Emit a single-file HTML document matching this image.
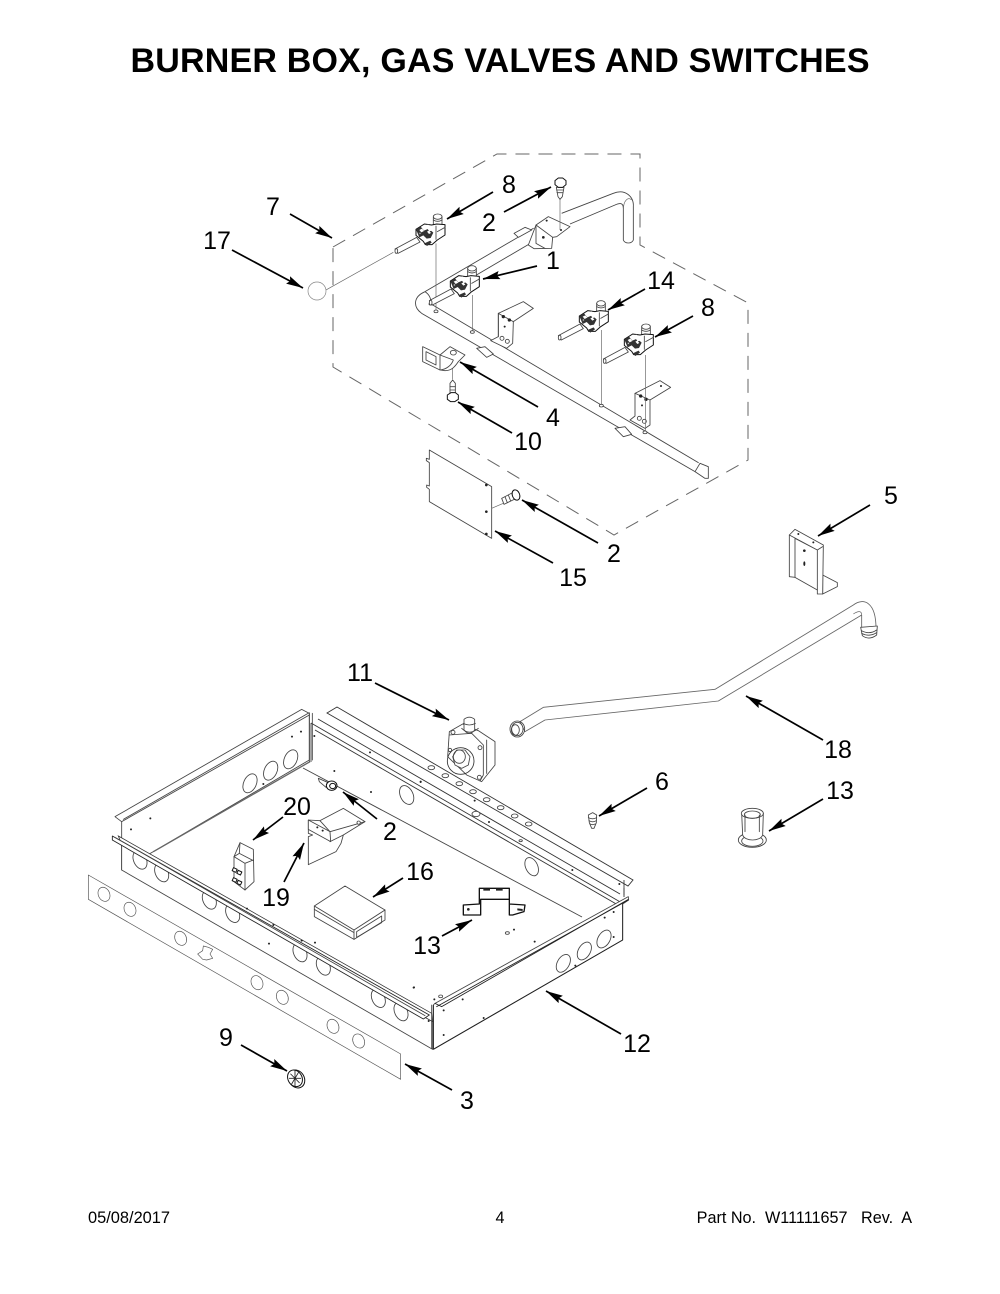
<!DOCTYPE html>
<html><head><meta charset="utf-8"><style>
html,body{margin:0;padding:0;background:#fff}
svg{display:block}
text{font-family:"Liberation Sans",Arial,sans-serif;fill:#000}
.n text{font-size:25px;text-anchor:middle}
.a line{stroke:#000;stroke-width:1.7;marker-end:url(#h)}
.d{fill:none;stroke:#444;stroke-width:2.6;stroke-linejoin:round;stroke-linecap:round}
.w{fill:#fff;stroke:#444;stroke-width:2.6;stroke-linejoin:round}
.k{fill:#fff;stroke:#111;stroke-width:3;stroke-linejoin:round}
.t{fill:none;stroke:#666;stroke-width:2}
.dot{fill:#222;stroke:none}
</style></head><body>
<svg width="1000" height="1294" viewBox="0 0 1000 1294" xmlns="http://www.w3.org/2000/svg">
<defs>
<marker id="h" markerUnits="userSpaceOnUse" markerWidth="18" markerHeight="10" refX="17" refY="5" orient="auto"><path d="M0,.8L17,5L0,9.2L2.5,5Z" fill="#000"/></marker>
<g id="valve">
 <path class="w" d="M195,297L260,262L270,276L204,310Z"/>
 <ellipse class="w" cx="199" cy="303" rx="4" ry="7"/>
 <path class="w" d="M310,200H336V225H310Z"/><ellipse class="w" cx="323" cy="200" rx="13" ry="8"/>
 <path class="d" d="M310,210Q323,218 336,210"/>
 <path class="k" d="M258,238L283,222L305,225L320,222L345,224V255L322,270L306,284L286,284L280,274L258,256Z"/>
 <path d="M258,238l14,-8l10,12l14,-6l14,12l-8,16l-12,2l-10,-10l-12,6zM283,280l18,-8l4,6l-14,10z" fill="#333"/>
 <path d="M268,240l8,-4l6,7l-8,4zM291,245l6,-3l6,7l-6,3zM285,226l10,-2l10,18l-7,2z" fill="#fff"/>
 <path class="d" d="M318,228V268M322,245L345,232"/>
 <circle class="w" cx="270" cy="250" r="3"/>
</g>
<g id="thole"><ellipse class="w" cx="0" cy="0" rx="10" ry="6"/></g>
</defs>

<text x="500" y="72" text-anchor="middle" font-size="34" font-weight="bold" textLength="739" lengthAdjust="spacing">BURNER BOX, GAS VALVES AND SWITCHES</text>

<path d="M333,247L497,154H640V245L748,303V460L614,535L333,367Z" fill="none" stroke="#666" stroke-width="1" stroke-dasharray="14 9"/>

<!-- upper assembly -->
<g transform="translate(330,150) scale(.33333)">
 <line class="t" x1="-30" y1="430" x2="190" y2="307"/>
 <path class="w" d="M695,190L850,130C885,115 912,140 910,170V270C905,282 885,282 880,270V175C880,158 870,158 855,165L720,222"/>
 <path class="t" d="M880,180C880,150 895,140 905,150"/>
 <path class="d" d="M610,235L285,425C250,440 248,470 275,490L1095,965M320,445L610,275M300,460L1105,938M285,425C300,435 305,450 300,460"/>
 <path class="w" d="M1095,965L1110,940L1135,950V985L1125,985Z"/>
 <path class="w" d="M552,250L585,232L605,240L565,262Z"/>
 <path class="w" d="M440,595L470,622L490,612L465,590Z"/>
 <path class="w" d="M855,835L880,860L905,853L885,830Z"/>
 <path class="w" d="M595,285L618,225L655,200L720,230L680,260L668,262L665,295L612,296Z"/>
 <path class="d" d="M618,225L668,262M618,225V280L645,295"/>
 <circle class="dot" cx="640" cy="262" r="4"/><circle class="dot" cx="650" cy="212" r="3"/><circle class="dot" cx="693" cy="240" r="3"/>
 <path class="w" d="M505,490L580,455L610,475L550,515L548,580L530,595L482,572L505,560Z"/>
 <path class="d" d="M505,490L550,515M505,490V560"/>
 <circle class="w" cx="516" cy="565" r="6"/><circle class="w" cx="532" cy="574" r="6"/><circle class="dot" cx="520" cy="500" r="5"/><circle class="dot" cx="538" cy="510" r="5"/><circle class="dot" cx="524" cy="530" r="3"/>
 <path class="w" d="M915,730L990,692L1022,712L960,750L960,825L945,835L900,810L915,798Z"/>
 <path class="d" d="M915,730L960,750"/>
 <circle class="w" cx="928" cy="805" r="6"/><circle class="w" cx="943" cy="814" r="6"/><circle class="dot" cx="932" cy="738" r="5"/><circle class="dot" cx="948" cy="748" r="5"/><circle class="dot" cx="936" cy="766" r="3"/><circle class="dot" cx="993" cy="708" r="3"/>
 <path class="t" d="M318,280V480M428,435V545M815,540V765M947,615V845M690,145V240"/>
 <ellipse class="w" cx="318" cy="484" rx="6" ry="4"/><ellipse class="w" cx="427" cy="546" rx="6" ry="4"/><ellipse class="w" cx="814" cy="767" rx="6" ry="4"/><ellipse class="w" cx="945" cy="847" rx="6" ry="4"/><ellipse class="w" cx="302" cy="462" rx="5" ry="3"/>
 <use href="#valve"/>
 <use href="#valve" x="103" y="155"/>
 <use href="#valve" x="490" y="260"/>
 <use href="#valve" x="625" y="330"/>
 <!-- screw 2 top -->
 <path class="w" d="M679,112H702L697,140L690,148L684,140Z"/>
 <path class="k" d="M675,92L685,84H698L708,92V104L698,112H685L675,104Z"/>
 <path class="d" d="M680,120H700M681,128H698"/>
 <!-- clip 4 -->
 <path class="w" d="M278,590L330,615V660L278,635Z"/>
 <path class="d" d="M288,605L318,620V645L288,630Z"/>
 <path class="w" d="M330,615L360,590L405,615L385,635C375,650 365,662 345,662L330,660C350,658 365,645 370,630Z"/>
 <ellipse class="w" cx="370" cy="608" rx="9" ry="7"/>
 <path class="t" d="M368,655V688"/>
 <!-- bolt 10 -->
 <path class="w" d="M360,700L368,690L376,700V732H360Z"/>
 <path class="d" d="M360,710H376M360,720H376"/>
 <path class="k" d="M352,735L363,728H376L385,735V748L374,755H362L352,748Z"/>
 <!-- plate 15 -->
 <path class="w" d="M298,900L485,1010V1165L298,1055V1018L290,1012V1005L298,1008V938L289,932V925L298,928Z"/>
 <circle class="dot" cx="469" cy="1005" r="4"/><circle class="dot" cx="469" cy="1085" r="4"/><circle class="dot" cx="469" cy="1152" r="4"/>
 <path class="t" d="M485,1075L520,1060"/>
 <path class="w" d="M515,1045L548,1028L555,1047L522,1063Z"/>
 <path class="d" d="M525,1040L532,1058M535,1035L542,1053"/>
 <ellipse class="k" cx="558" cy="1035" rx="11" ry="16" transform="rotate(-20 558 1035)"/>
</g>
<ellipse cx="317" cy="291" rx="9" ry="9" fill="#fff" stroke="#888" stroke-width=".7"/>

<!-- bracket 5, pipe 18, 6, bushing 13 -->
<g transform="translate(500,520) scale(.33333)">
 <path class="w" d="M968,165L1012,188V200L968,222Z"/>
 <path class="w" d="M868,45L885,28L970,75L968,222L952,222L952,210L885,172L868,170Z"/>
 <path class="d" d="M885,55V172M868,45L952,90V210M885,55L952,90M968,80L952,90"/>
 <circle class="dot" cx="913" cy="92" r="4"/><ellipse class="dot" cx="913" cy="131" rx="3" ry="7"/><circle class="dot" cx="895" cy="42" r="3"/><circle class="dot" cx="940" cy="67" r="3"/>
 <path class="w" style="stroke:#666" d="M60,605L130,562L645,508L1060,255C1090,232 1128,245 1128,325H1085V285L655,543L135,600L75,635Z"/>
 <path class="t" d="M1085,285C1085,272 1075,272 1060,282"/>
 <ellipse class="d" cx="52" cy="627" rx="22" ry="24"/><ellipse class="w" cx="52" cy="627" rx="17" ry="20"/><ellipse class="d" cx="46" cy="630" rx="12" ry="16"/>
 <path class="w" d="M1082,322L1132,318L1130,345Q1108,362 1087,347Z"/><path class="d" d="M1084,332Q1108,345 1130,330M1085,340Q1108,352 1130,338"/>
 <path class="w" d="M265,885L278,878L290,885L289,908L282,925H275L268,908Z"/><path class="d" d="M265,893Q278,900 290,893M267,902Q278,909 289,902M271,912Q278,916 285,912"/>
 <ellipse class="w" cx="757" cy="960" rx="42" ry="22"/><ellipse class="d" cx="757" cy="963" rx="32" ry="16"/>
 <path class="w" d="M725,880H790L788,945C780,965 735,965 728,945Z"/><ellipse class="w" cx="757" cy="880" rx="33" ry="15"/><path class="d" d="M735,885V935M778,885V935"/><ellipse class="d" cx="757" cy="884" rx="24" ry="11"/>
</g>

<!-- lower box: page coordinate lines -->
<g fill="none" stroke="#333" stroke-width=".9">
 <path d="M327,713L337,707L633,880L628,886L327,713Z" fill="#fff"/>
 <path d="M318,719L620,894M311,723L622,903M315,730L618,905"/>
 <path d="M311,723V762" stroke="#444"/>
 <path d="M303,768L582,917" stroke="#444"/>
 <path d="M624,888V897"/>
</g>
<g transform="translate(80,700) scale(.33333)">
 <path class="w" d="M105,350L665,28L688,40V180L220,455L125,510V365L105,350Z"/>
 <path class="d" d="M125,365L688,45M130,358L688,38"/>
 <path d="M690,185L220,455" stroke="#666" stroke-width="4" fill="none"/>
 <path class="d" d="M688,40V185M697,40V180"/>
 <circle class="dot" cx="153" cy="388" r="3"/><circle class="dot" cx="211" cy="355" r="3"/><circle class="dot" cx="636" cy="110" r="3"/><circle class="dot" cx="663" cy="95" r="3"/><circle class="dot" cx="550" cy="252" r="3"/><circle class="dot" cx="703" cy="108" r="3"/>
 <ellipse class="w" cx="510" cy="250" rx="19" ry="30" transform="rotate(25 510 250)"/>
 <ellipse class="w" cx="572" cy="212" rx="19" ry="30" transform="rotate(25 572 212)"/>
 <ellipse class="w" cx="632" cy="178" rx="19" ry="30" transform="rotate(25 632 178)"/>
 <ellipse class="w" cx="980" cy="285" rx="19" ry="30" transform="rotate(-25 980 285)"/>
 <circle class="dot" cx="763" cy="213" r="3"/><circle class="dot" cx="873" cy="276" r="3"/><circle class="dot" cx="870" cy="157" r="3"/><circle class="dot" cx="1022" cy="245" r="3"/>
 <!-- screw 2 -->
 <path class="w" d="M715,235L745,248L738,262L718,245Z"/><ellipse class="k" cx="755" cy="257" rx="16" ry="14"/><ellipse class="k" cx="758" cy="258" rx="9" ry="8"/>
 <!-- 19 -->
 <path class="w" d="M720,362L790,325L855,365L790,405L783,430L768,455L685,494V410L698,405L685,400V360Z"/>
 <path class="w" d="M685,360L750,395L752,425L685,388Z"/>
 <path class="d" d="M720,362L750,395L855,365M750,425L790,405"/>
 <circle class="dot" cx="712" cy="382" r="3"/><circle class="dot" cx="728" cy="392" r="3"/><circle class="w" cx="836" cy="368" r="5"/>
 <!-- 20 -->
 <path class="w" d="M462,470L480,428L520,448L522,545L495,570L462,545Z"/>
 <path class="d" d="M480,428L478,460L520,482M478,460L462,470L495,490V570M495,490L520,480"/>
 <rect class="k" x="458" y="505" width="12" height="10" transform="rotate(25 464 510)"/><rect class="k" x="472" y="513" width="12" height="10" transform="rotate(25 478 518)"/><rect class="k" x="458" y="535" width="12" height="10" transform="rotate(25 464 540)"/><rect class="k" x="472" y="543" width="12" height="10" transform="rotate(25 478 548)"/>
 <!-- 16 -->
 <path class="w" d="M703,618L795,558L915,630V660L822,718L703,650Z"/>
 <path class="d" d="M703,618L822,690V718M822,690L915,630M703,628L822,698M830,695L905,648V668L830,712Z"/>
 <!-- front wall -->
 <path class="w" d="M125,430L1058,965V1048L125,510Z"/>
 <ellipse class="w" cx="180" cy="480" rx="19" ry="29" transform="rotate(-25 180 480)"/>
 <ellipse class="w" cx="245" cy="518" rx="19" ry="29" transform="rotate(-25 245 518)"/>
 <ellipse class="w" cx="388" cy="600" rx="19" ry="29" transform="rotate(-25 388 600)"/>
 <ellipse class="w" cx="458" cy="640" rx="19" ry="29" transform="rotate(-25 458 640)"/>
 <ellipse class="w" cx="660" cy="758" rx="19" ry="29" transform="rotate(-25 660 758)"/>
 <ellipse class="w" cx="730" cy="798" rx="19" ry="29" transform="rotate(-25 730 798)"/>
 <ellipse class="w" cx="895" cy="895" rx="19" ry="29" transform="rotate(-25 895 895)"/>
 <ellipse class="w" cx="963" cy="935" rx="19" ry="29" transform="rotate(-25 963 935)"/>
 <!-- rail -->
 <path d="M115,408L1055,940L1058,965L125,432Z" fill="#fff" stroke="#333" stroke-width="2.4"/>
 <path class="w" d="M97,408L1048,945L1030,957L97,420Z" style="stroke:#222"/>
 <path class="d" d="M105,412L1035,947"/>
 <circle class="dot" cx="501" cy="626" r="3"/><circle class="dot" cx="580" cy="675" r="3"/><circle class="dot" cx="665" cy="722" r="3"/><circle class="dot" cx="705" cy="728" r="3"/><circle class="dot" cx="567" cy="731" r="3"/><circle class="dot" cx="1002" cy="862" r="3"/><circle class="dot" cx="1046" cy="963" r="3"/>
 <!-- panel 3 -->
 <path class="w" d="M25,525L962,1062V1138L25,598Z" style="stroke:#555;stroke-width:2"/>
 <g class="w" style="stroke:#555;stroke-width:2">
 <ellipse cx="72" cy="583" rx="17" ry="22" transform="rotate(-25 72 583)"/><ellipse cx="150" cy="628" rx="17" ry="22" transform="rotate(-25 150 628)"/><ellipse cx="302" cy="715" rx="17" ry="22" transform="rotate(-25 302 715)"/><ellipse cx="531" cy="848" rx="17" ry="22" transform="rotate(-25 531 848)"/><ellipse cx="607" cy="892" rx="17" ry="22" transform="rotate(-25 607 892)"/><ellipse cx="759" cy="979" rx="17" ry="22" transform="rotate(-25 759 979)"/><ellipse cx="836" cy="1023" rx="17" ry="22" transform="rotate(-25 836 1023)"/>
 <path d="M353,762L368,752L370,738L385,742L398,748L390,762L398,775L380,780L368,778Z"/>
 </g>
 <!-- knob 9 -->
 <ellipse class="k" cx="650" cy="1137" rx="23" ry="28" transform="rotate(-30 650 1137)"/>
 <ellipse class="k" cx="645" cy="1135" rx="21" ry="26" transform="rotate(-30 645 1135)"/>
 <path class="d" d="M632,1122L658,1148M628,1135L662,1135M645,1112V1158M655,1118L635,1152" style="stroke:#222"/>
</g>
<g transform="translate(400,700) scale(.33333)">
 <!-- right wall -->
 <path class="w" d="M100,915L105,910L685,590L686,600L668,612V720L100,1048Z"/>
 <path class="d" d="M110,920L685,600M668,612L668,720" style="stroke:#222"/>
 <path d="M100,1048L668,720" stroke="#222" stroke-width="3" fill="none"/>
 <path d="M100,915V1048" stroke="#222" stroke-width="3" fill="none"/>
 <path class="d" d="M95,915V1045"/>
 <path d="M105,910L125,920L685,598" stroke="#222" stroke-width="2.6" fill="none"/>
 <path d="M672,540V585" stroke="#333" stroke-width="2.6" fill="none"/>
 <ellipse class="w" cx="490" cy="790" rx="18" ry="29" transform="rotate(30 490 790)"/>
 <ellipse class="w" cx="553" cy="753" rx="18" ry="29" transform="rotate(30 553 753)"/>
 <ellipse class="w" cx="612" cy="717" rx="18" ry="29" transform="rotate(30 612 717)"/>
 <ellipse class="w" cx="395" cy="500" rx="18" ry="29" transform="rotate(-25 395 500)"/>
 <circle class="dot" cx="614" cy="653" r="3"/><circle class="dot" cx="641" cy="636" r="3"/><circle class="dot" cx="641" cy="711" r="3"/><circle class="dot" cx="526" cy="797" r="3"/><circle class="dot" cx="251" cy="954" r="3"/><circle class="dot" cx="131" cy="931" r="3"/><circle class="dot" cx="188" cy="898" r="3"/><circle class="dot" cx="131" cy="1005" r="3"/><circle class="dot" cx="404" cy="725" r="3"/><circle class="dot" cx="342" cy="689" r="3"/><circle class="dot" cx="41" cy="863" r="3"/><circle class="dot" cx="103" cy="898" r="3"/><circle class="dot" cx="224" cy="302" r="3"/><circle class="dot" cx="267" cy="366" r="3"/><circle class="dot" cx="517" cy="510" r="3"/><circle class="dot" cx="62" cy="246" r="3"/><circle class="dot" cx="658" cy="552" r="3"/><ellipse class="w" cx="322" cy="699" rx="6" ry="4"/><ellipse class="w" cx="122" cy="889" rx="6" ry="4"/><ellipse class="w" cx="362" cy="422" rx="5" ry="3"/>
 <use href="#thole" x="94" y="203"/><use href="#thole" x="136" y="227"/><use href="#thole" x="178" y="251"/><use href="#thole" x="219" y="275"/><use href="#thole" x="260" y="299"/><use href="#thole" x="302" y="323"/><use href="#thole" x="344" y="348"/><use href="#thole" x="386" y="372"/>
 <ellipse class="w" cx="228" cy="342" rx="12" ry="8"/>
 <!-- 13 bracket -->
 <path class="k" style="stroke-width:4" d="M190,615L238,612V565H328V612L375,615L372,635L338,645H328V598H242V645H190Z"/>
 <path d="M250,565h20v7h-20zM288,565h20v7h-20zM352,625l16,2v6l-16,-2z" fill="#222"/><circle class="dot" cx="205" cy="628" r="4"/>
 <!-- 11 regulator -->
 <path class="w" d="M148,95L188,72L235,92L285,125V195L245,245L200,225L143,170Z"/>
 <path class="d" d="M260,120L260,220M148,105L215,100L250,135V225L240,243"/>
 <circle class="d" cx="182" cy="183" r="40" style="stroke:#333"/>
 <path class="w" d="M158,170L170,150H195L210,170L205,195L185,205L165,195Z"/>
 <ellipse class="d" cx="178" cy="170" rx="18" ry="20"/>
 <path class="w" d="M192,58Q208,45 224,58V90Q208,110 192,90Z"/><path class="d" d="M185,85Q208,108 235,85M190,70Q208,80 226,70"/>
 <circle class="w" cx="159" cy="97" r="6"/><circle class="w" cx="240" cy="143" r="6"/><circle class="w" cx="238" cy="232" r="6"/><circle class="w" cx="150" cy="150" r="5"/>
</g>

<g class="a">
 <line x1="290" y1="214" x2="332" y2="238"/><line x1="232" y1="250" x2="303" y2="288"/>
 <line x1="493" y1="192" x2="447" y2="219"/><line x1="504" y1="212" x2="551" y2="187"/>
 <line x1="537" y1="266" x2="483" y2="279"/><line x1="645" y1="289" x2="608" y2="310"/>
 <line x1="693" y1="316" x2="655" y2="337"/><line x1="538" y1="407" x2="460" y2="362"/>
 <line x1="512" y1="433" x2="458" y2="402"/><line x1="598" y1="543" x2="522" y2="500"/>
 <line x1="553" y1="563" x2="495" y2="531"/><line x1="870" y1="505" x2="818" y2="536"/>
 <line x1="823" y1="740" x2="746" y2="696"/><line x1="647" y1="788" x2="599" y2="816"/>
 <line x1="823" y1="799" x2="769" y2="831"/><line x1="375" y1="683" x2="449" y2="720"/>
 <line x1="377" y1="819" x2="343" y2="792"/><line x1="283" y1="817" x2="253" y2="840"/>
 <line x1="284" y1="882" x2="304" y2="843"/><line x1="403" y1="878" x2="373" y2="897"/>
 <line x1="442" y1="936" x2="472" y2="920"/><line x1="621" y1="1034" x2="546" y2="991"/>
 <line x1="452" y1="1090" x2="405" y2="1064"/><line x1="241" y1="1045" x2="287" y2="1071"/>
</g>

<g class="n">
 <text x="509" y="193">8</text><text x="489" y="231">2</text><text x="273" y="215">7</text><text x="217" y="249">17</text>
 <text x="553" y="269">1</text><text x="661" y="289">14</text><text x="708" y="316">8</text><text x="553" y="426">4</text>
 <text x="528" y="450">10</text><text x="614" y="562">2</text><text x="573" y="586">15</text><text x="891" y="504">5</text>
 <text x="360" y="681">11</text><text x="838" y="758">18</text><text x="662" y="790">6</text><text x="840" y="799">13</text>
 <text x="390" y="840">2</text><text x="297" y="815">20</text><text x="276" y="906">19</text><text x="420" y="880">16</text>
 <text x="427" y="954">13</text><text x="637" y="1052">12</text><text x="226" y="1046">9</text><text x="467" y="1109">3</text>
</g>

<text x="88" y="1223" font-size="16.4">05/08/2017</text>
<text x="500" y="1223" font-size="16.2" text-anchor="middle">4</text>
<text x="912" y="1223" font-size="16.2" text-anchor="end" xml:space="preserve">Part No.  W11111657   Rev.  A</text>
</svg>
</body></html>
